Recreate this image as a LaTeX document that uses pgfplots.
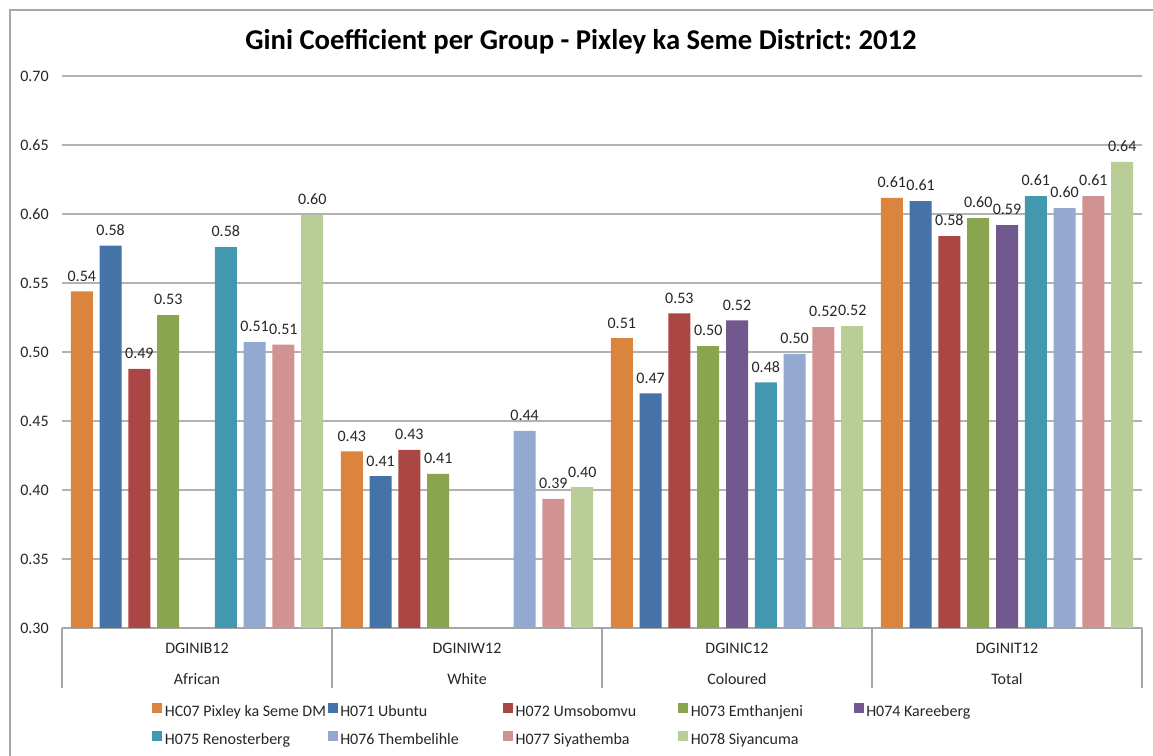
\documentclass[border=0pt]{standalone}
\usepackage{pgfplots}
\pgfplotsset{compat=1.18}
\usepackage{fontspec}
\setmainfont{Carlito}
\frenchspacing

\definecolor{cOrange}{HTML}{DB843D}
\definecolor{cBlue}{HTML}{4572A7}
\definecolor{cRed}{HTML}{AA4643}
\definecolor{cGreen}{HTML}{89A54E}
\definecolor{cPurple}{HTML}{71588F}
\definecolor{cTeal}{HTML}{4198AF}
\definecolor{cLBlue}{HTML}{93A9CF}
\definecolor{cPink}{HTML}{D19392}
\definecolor{cLGreen}{HTML}{B9CD96}

\newcommand\fs{\fontsize{12pt}{14.4pt}\selectfont}
\newcommand\lgbox[1]{\makebox[110pt][l]{#1}}

\begin{document}
\begin{tikzpicture}
\useasboundingbox (-46.5pt,-96pt) rectangle (818.25pt,471pt);
\fill[white] (-46.5pt,-96pt) rectangle (818.25pt,471pt);
\draw[gray!70, line width=0.8pt] (-39pt,-100pt) -- (-39pt,463.5pt) -- (830pt,463.5pt);
\begin{axis}[
  scale only axis, width=810pt, height=414pt, clip=false,
  ybar=5.1pt, bar width=16.5pt,
  xmin=-0.5, xmax=3.5, ymin=0.30, ymax=0.70,
  axis x line*=bottom, axis y line*=left,
  x axis line style={gray!70, line width=0.8pt},
  y axis line style={draw=none},
  ytick={0.30,0.35,0.40,0.45,0.50,0.55,0.60,0.65,0.70},
  ytick style={draw=none},
  ymajorgrids, grid style={gray!60, line width=0.8pt},
  yticklabel style={font=\fs, text=black!85, xshift=-6.5pt,
    /pgf/number format/.cd, fixed, fixed zerofill, precision=2},
  /pgf/number format/assume math mode=true,
  xtick={0,1,2,3},
  xticklabels={{DGINIB12\\[8.6pt]African},{DGINIW12\\[8.6pt]White},
    {DGINIC12\\[8.6pt]Coloured},{DGINIT12\\[8.6pt]Total}},
  xticklabel style={align=center, font=\fs, text=black!85, yshift=-3.8pt},
  xtick style={draw=none},
  nodes near coords,
  nodes near coords style={font=\fs, text=black!85, yshift=4pt,
    /pgf/number format/.cd, fixed, fixed zerofill, precision=2,
    assume math mode=true},
  every axis plot/.append style={draw=none},
  legend columns=5,
  legend style={at={(0.08333,-0.13285)}, anchor=north west, draw=none,
    fill=none, inner xsep=0pt, inner ysep=0pt, font=\fs, text=black!85,
    row sep=5pt,
    nodes={inner sep=2pt, text height=9pt, text depth=3pt},
    /tikz/every even column/.append style={column sep=10pt}},
  legend cell align=left,
  legend image code/.code={\fill[#1] (0pt,-0.3pt) rectangle (7.5pt,7.2pt);},
]
\addplot[fill=cOrange] coordinates {(0,0.544) (1,0.428) (2,0.510) (3,0.6116)};
\addlegendentry{\lgbox{HC07 Pixley ka Seme DM}}
\addplot[fill=cBlue] coordinates {(0,0.577) (1,0.410) (2,0.470) (3,0.6094)};
\addlegendentry{\lgbox{H071 Ubuntu}}
\addplot[fill=cRed] coordinates {(0,0.4877) (1,0.429) (2,0.528) (3,0.584)};
\addlegendentry{\lgbox{H072 Umsobomvu}}
\addplot[fill=cGreen] coordinates {(0,0.5268) (1,0.4116) (2,0.5043) (3,0.597)};
\addlegendentry{\lgbox{H073 Emthanjeni}}
\addplot[fill=cPurple] coordinates {(2,0.523) (3,0.592)};
\addlegendentry{H074 Kareeberg}
\addplot[fill=cTeal] coordinates {(0,0.576) (2,0.478) (3,0.613)};
\addlegendentry{\lgbox{H075 Renosterberg}}
\addplot[fill=cLBlue] coordinates {(0,0.5072) (1,0.4428) (2,0.4986) (3,0.6043)};
\addlegendentry{\lgbox{H076 Thembelihle}}
\addplot[fill=cPink] coordinates {(0,0.5053) (1,0.3935) (2,0.518) (3,0.613)};
\addlegendentry{\lgbox{H077 Siyathemba}}
\addplot[fill=cLGreen] coordinates {(0,0.5993) (1,0.402) (2,0.5188) (3,0.6377)};
\addlegendentry{\lgbox{H078 Siyancuma}}
% category separators below the axis
\pgfplotsinvokeforeach{-0.5,0.5,1.5,2.5,3.5}{
  \draw[gray!70, line width=0.8pt] (axis cs:#1,0.30) -- ++(0pt,-45pt);
}
\end{axis}
\node[anchor=base, font=\fontsize{21.5pt}{25pt}\selectfont\bfseries, text=black]
  at (389.25pt,433.5pt) {Gini Coefficient per Group - Pixley ka Seme District: 2012};
\end{tikzpicture}
\end{document}
